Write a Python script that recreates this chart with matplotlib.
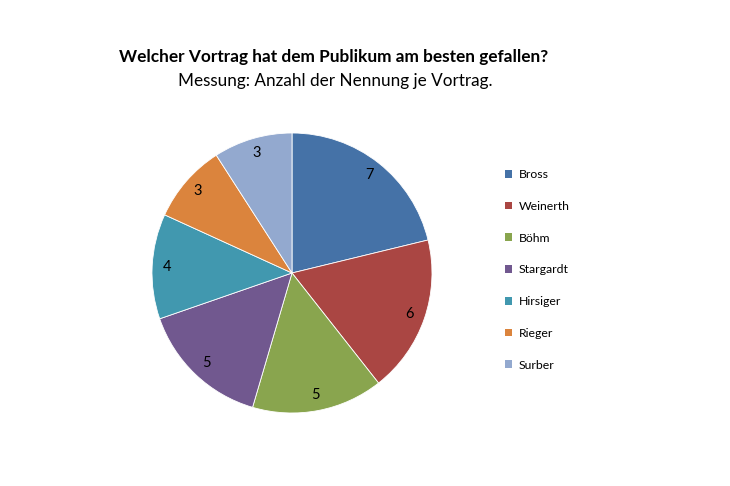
import matplotlib
matplotlib.use("Agg")
import matplotlib.pyplot as plt
from matplotlib.patches import Patch

# data
names = ["Bross", "Weinerth", "Böhm", "Stargardt", "Hirsiger", "Rieger", "Surber"]
counts = [7, 6, 5, 5, 4, 3, 3]
colors = ["#4572A7", "#AA4643", "#89A54E", "#71588F", "#4198AF", "#DB843D", "#93A9CF"]

FONT = ["Lato", "DejaVu Sans"]
W, H = 730, 486

fig = plt.figure(figsize=(W / 100, H / 100), dpi=100)
fig.patch.set_facecolor("white")

# pie axes, centre ~ (292, 273), radius ~ 140 px
cx, cy, r = 292, 273, 140
ax = fig.add_axes([(cx - r) / W, (H - cy - r) / H, 2 * r / W, 2 * r / H])
wedges, texts = ax.pie(counts, colors=colors, startangle=90, counterclock=False,
                       labels=[str(c) for c in counts], labeldistance=0.89,
                       wedgeprops=dict(edgecolor="white", linewidth=0.6),
                       textprops=dict(fontsize=10.5, family=FONT, color="black"))
for t in texts:
    t.set_horizontalalignment("center")
    t.set_verticalalignment("center")
ax.set_xlim(-1, 1)
ax.set_ylim(-1, 1)
ax.set_aspect("auto")
ax.axis("off")

# titles
fig.text(334 / W, 1 - 57 / H, "Welcher Vortrag hat dem Publikum am besten gefallen?",
         ha="center", va="center", fontsize=12.4, fontweight="bold", family=FONT)
fig.text(335 / W, 1 - 81 / H, "Messung: Anzahl der Nennung je Vortrag.",
         ha="center", va="center", fontsize=12.3, family=FONT)

# legend
handles = [Patch(facecolor=c, edgecolor="none") for c in colors]
leg = fig.legend(handles, names, loc="upper left",
                 bbox_to_anchor=(494 / W, 1 - 158 / H), frameon=False,
                 prop=dict(family=FONT, size=8.8), handlelength=0.6, handleheight=0.6,
                 handletextpad=0.5, labelspacing=1.7)

fig.savefig("out.png", dpi=100, facecolor="white")
